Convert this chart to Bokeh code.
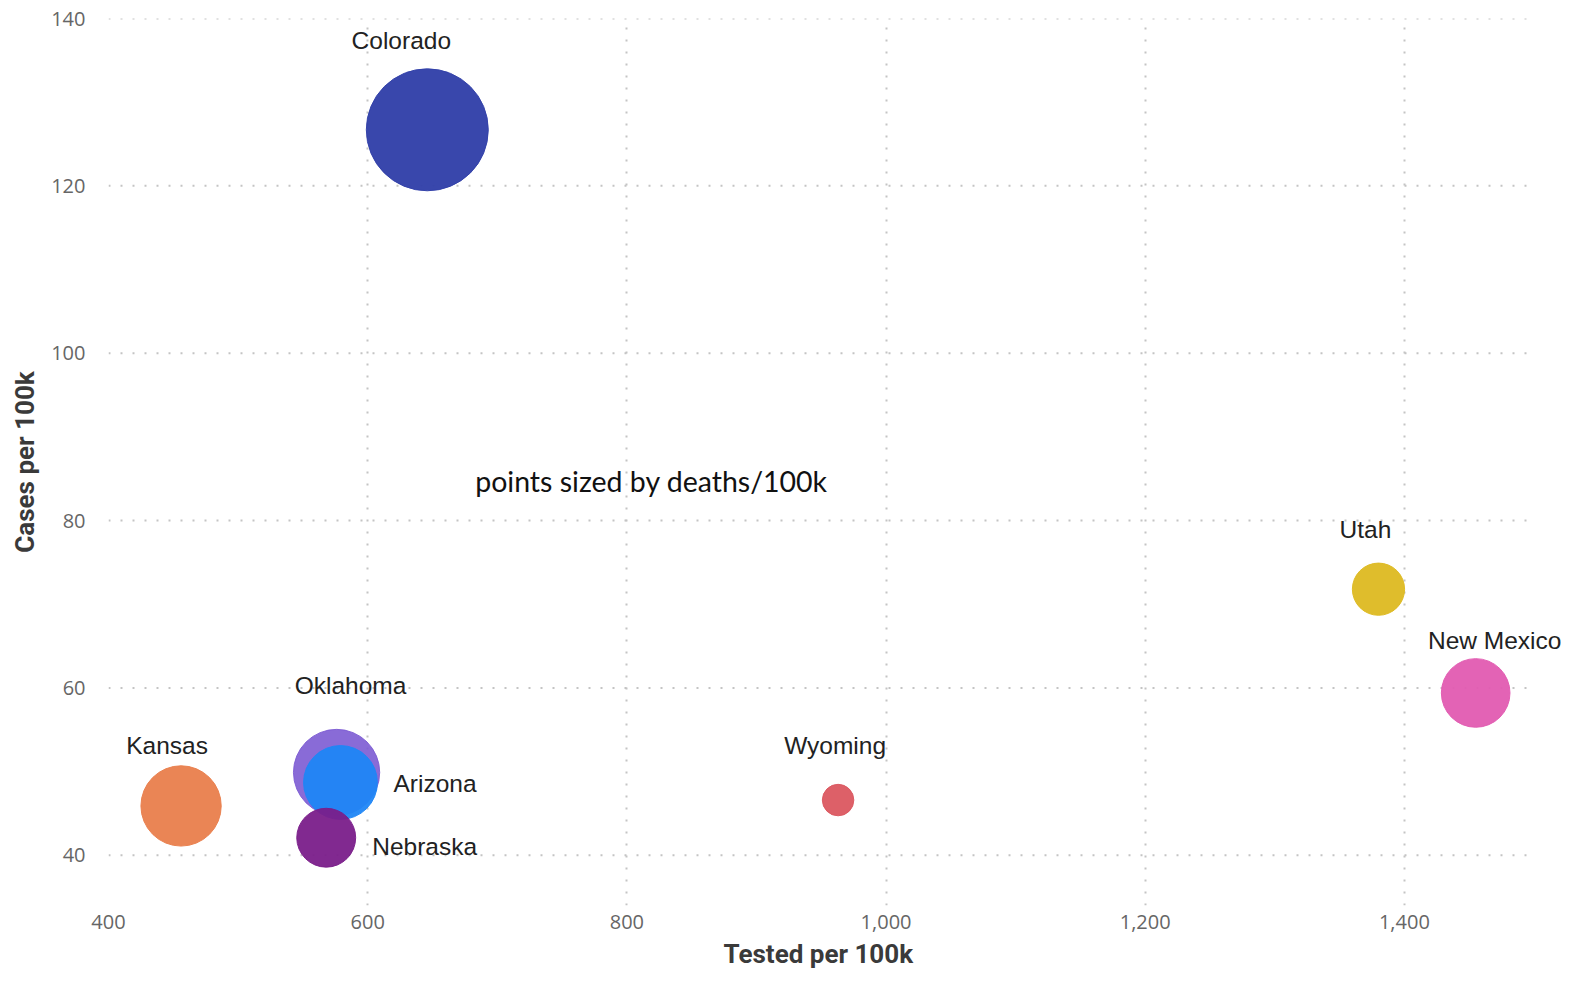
from bokeh.plotting import figure
from bokeh.models import ColumnDataSource, FixedTicker, NumeralTickFormatter, Label, Title
from bokeh.embed import file_html
from bokeh.resources import INLINE
from bokeh.core.properties import value
import numpy as np

# ---- data ----
states = ["Kansas", "Oklahoma", "Arizona", "Nebraska", "Wyoming", "Utah", "New Mexico", "Colorado"]
tested = [456, 576, 579, 568, 963, 1380, 1455, 646]
cases = [45.9, 49.9, 48.7, 42.1, 46.6, 71.8, 59.4, 126.7]
deaths = [2.6, 3.0, 2.2, 1.4, 0.4, 1.1, 1.9, 6.0]
x_ticks = [400, 600, 800, 1000, 1200, 1400]
y_ticks = [40, 60, 80, 100, 120, 140]
x_min, x_grid_end, x_max = 400, 1497, 1522
y_min, y_max = 34.0, 140.0

# ---- styling ----
colors = ["#E97E4C", "#7C5BD3", "#1F86F6", "#7A1E8A", "#DB5760", "#DDB921", "#E25BB1", "#3341A9"]
alphas = [0.95, 0.9, 0.95, 0.95, 0.95, 0.95, 0.95, 0.97]
label_dx = [-14, 14, 53, 46, -3, -13, 19, -26]
label_dy = [-60, -87, 1, 9, -55, -60, -52, -89]   # screen px, negative = up
label_align = ["center", "center", "left", "left", "center", "center", "center", "center"]
grid_color = "#c4c4c4"

diam = [2 * 24.9 * np.sqrt(d) for d in deaths]

src = ColumnDataSource(dict(x=tested, y=cases, size=diam, color=colors, alpha=alphas,
                            name=states, dx=label_dx, dy=label_dy, align=label_align))

p = figure(width=1562, height=979, output_backend="svg", toolbar_location=None,
           x_range=(x_min, x_max), y_range=(y_min, y_max),
           min_border_left=108, min_border_right=0, min_border_top=18, min_border_bottom=74)
p.outline_line_color = None
p.background_fill_color = "white"

# vertical grid lines from the axis grid
p.xgrid.grid_line_color = grid_color
p.xgrid.grid_line_width = 2
p.xgrid.grid_line_dash = "2 10"
# horizontal grid lines stop at the end of the value range (as in the reference)
p.ygrid.grid_line_color = None
p.segment(x0=[x_min] * len(y_ticks), y0=y_ticks, x1=[x_grid_end] * len(y_ticks), y1=y_ticks,
          line_color=grid_color, line_width=2, line_dash="2 10")

for ax in (p.xaxis, p.yaxis):
    ax.axis_line_color = None
    ax.major_tick_line_color = None
    ax.minor_tick_line_color = None
    ax.major_label_text_font = "Open Sans"
    ax.major_label_text_font_size = "20px"
    ax.major_label_text_color = "#666666"
    ax.axis_label_text_font = "Roboto"
    ax.axis_label_text_font_style = "bold"
    ax.axis_label_text_font_size = "26px"
    ax.axis_label_text_color = "#3a3a3a"

p.xaxis.ticker = FixedTicker(ticks=x_ticks)
p.yaxis.ticker = FixedTicker(ticks=y_ticks)
p.xaxis.formatter = NumeralTickFormatter(format="0,0")
p.xaxis.major_label_standoff = 3
p.yaxis.major_label_standoff = 17
p.yaxis.axis_label = "Cases per 100k"
p.yaxis.axis_label_standoff = 8

# x-axis title placed under the middle of the value range (not of the wider frame)
p.add_layout(Title(text="Tested per 100k", align="left", offset=615, standoff=10,
                   text_font="Roboto", text_font_style="bold", text_font_size="26px",
                   text_color="#3a3a3a"), "below")

p.scatter("x", "y", size="size", fill_color="color", fill_alpha="alpha",
          line_color="color", line_alpha="alpha", line_width=1, source=src)

p.text("x", "y", text="name", x_offset="dx", y_offset="dy", text_align="align",
       text_baseline="middle", text_font=value("Liberation Sans"), text_font_size="24.5px",
       text_color="#222222", source=src)

p.add_layout(Label(x=819, y=84.7, text="points sized by deaths/100k", text_align="center",
                   text_baseline="middle", text_font="Lato", text_font_size="28.5px",
                   text_color="#111111"))

open("out.html", "w").write(file_html(p, INLINE))
